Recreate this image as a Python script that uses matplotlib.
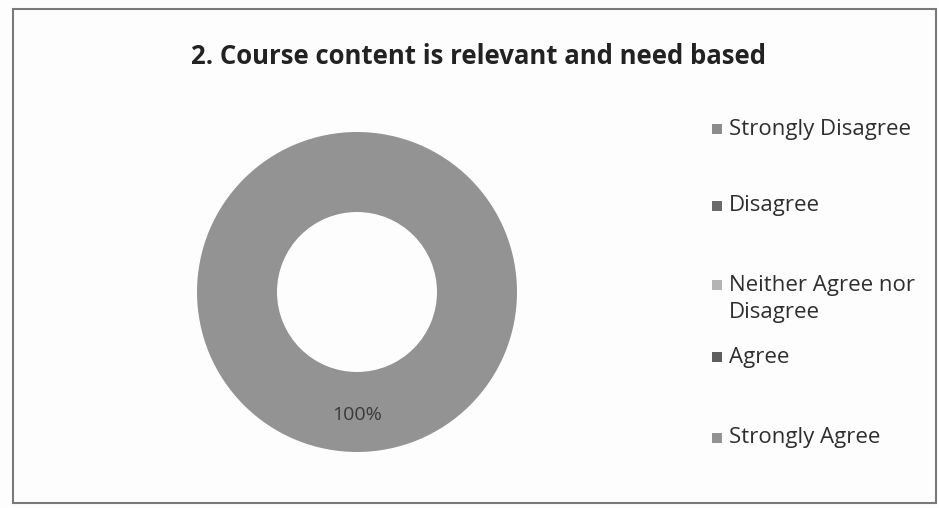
import matplotlib
matplotlib.use("Agg")
import matplotlib.pyplot as plt
from matplotlib.patches import Rectangle

categories = ["Strongly Disagree", "Disagree", "Neither Agree nor\nDisagree", "Agree", "Strongly Agree"]
values = [0, 0, 0, 0, 100]
colors = ["#8c8c8c", "#6a6a6a", "#b4b4b4", "#5e5e5e", "#939393"]
title = "2. Course content is relevant and need based"

plt.rcParams['font.family'] = ['Open Sans', 'DejaVu Sans']

W, H = 939, 508
fig = plt.figure(figsize=(W/100, H/100), dpi=100)
fig.patch.set_facecolor("#fdfdfd")

cx, cy, r = 357, 292, 160
ax = fig.add_axes([(cx - r)/W, (H - cy - r)/H, 2*r/W, 2*r/H])
wedges, texts, autotexts = ax.pie(
    values, colors=colors, startangle=90, counterclock=False, radius=1,
    wedgeprops=dict(width=0.5, linewidth=0),
    autopct=lambda p: f"{p:.0f}%" if p > 0 else "", pctdistance=0.77,
    textprops=dict(fontsize=14, color="#3a3a3a"))
ax.set_xlim(-1, 1)
ax.set_ylim(-1, 1)
ax.axis("off")

fig.text(191/W, 1 - 57/H, title, fontsize=18.5, fontweight="bold", color="#222222",
         ha="left", va="center")

# legend
ys = [129, 206, 299, 357, 438]
for cat, col, y in zip(categories, colors, ys):
    first_y = y - (14 if "\n" in cat else 0)
    fig.patches.append(Rectangle((712/W, 1 - (first_y + 5)/H), 10/W, 10/H,
                                 transform=fig.transFigure, facecolor=col, edgecolor="none"))
    fig.text(729/W, 1 - y/H, cat, fontsize=16, color="#2e2e2e", ha="left", va="center",
             linespacing=1.38)

fig.patches.append(Rectangle((13/W, 1 - 503/H), (936 - 13)/W, (503 - 9)/H,
                             transform=fig.transFigure, facecolor="none",
                             edgecolor="#7a7a7a", linewidth=1.5))

fig.savefig("out.png", dpi=100, facecolor=fig.get_facecolor())
